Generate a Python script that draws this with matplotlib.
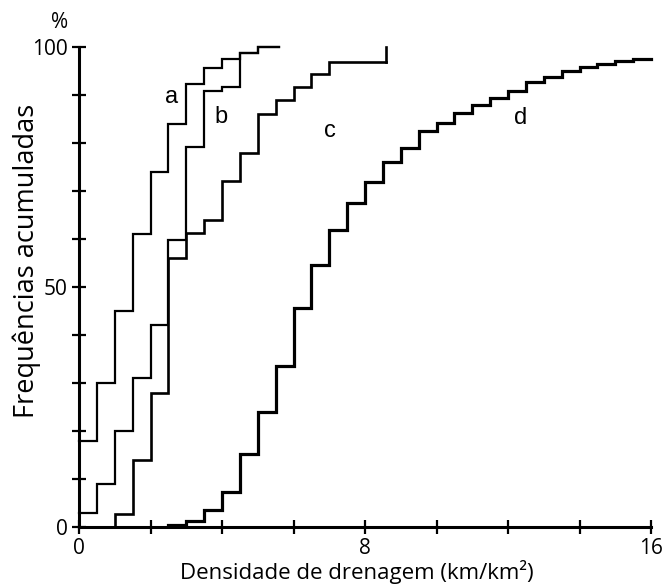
import numpy as np
import matplotlib
matplotlib.use('Agg')
import matplotlib.pyplot as plt

# cumulative frequency curves (step edges in km/km2, % values)
a_x = [0, 0.5, 1.0, 1.5, 2.0, 2.5, 3.0, 3.5, 4.0, 4.5, 5.0, 5.6]
a_y = [18, 30, 45, 61, 74, 84, 92.3, 95.5, 97.4, 98.7, 99.9]

b_x = [0, 0.5, 1.0, 1.5, 2.0, 2.5, 3.0, 3.5, 4.0, 4.5, 5.0, 5.6]
b_y = [3, 9, 20, 31, 42, 59.8, 79.2, 90.7, 91.7, 98.7, 99.9]

c_x = [0, 1.0, 1.5, 2.0, 2.5, 3.0, 3.5, 4.0, 4.5, 5.0, 5.5, 6.0, 6.5, 7.0, 8.6]
c_y = [0, 2.7, 14, 28, 56, 61.2, 64, 72, 77.8, 86, 89, 91.7, 94.4, 96.9]
c_end = 100

d_x = [2.5, 3.0, 3.5, 4.0, 4.5, 5.0, 5.5, 6.0, 6.5, 7.0, 7.5, 8.0, 8.5, 9.0,
       9.5, 10.0, 10.5, 11.0, 11.5, 12.0, 12.5, 13.0, 13.5, 14.0, 14.5,
       15.0, 15.5, 16.0]
d_y = [0.4, 1.3, 3.5, 7.2, 15.2, 24, 33.6, 45.7, 54.6, 61.9, 67.4, 71.9, 75.9,
       78.9, 82.5, 84.2, 86.3, 87.9, 89.3, 90.7, 92.6, 93.7, 94.9, 95.8, 96.5,
       97.1, 97.4]

curve_labels = ['a', 'b', 'c', 'd']
label_pos = [(2.6, 89.5), (3.98, 85.3), (7.03, 82.5), (12.35, 85.2)]

xticks = [0, 2, 4, 6, 8, 10, 12, 14, 16]
xtick_labels = ['0', '', '', '', '8', '', '', '', '16']
yticks = [0, 10, 20, 30, 40, 50, 60, 70, 80, 90, 100]
ytick_labels = ['0', '', '', '', '', '50', '', '', '', '', '100']

plt.rcParams['font.family'] = ['Open Sans', 'DejaVu Sans']

fig = plt.figure(figsize=(6.65, 5.85), dpi=100)
ax = fig.add_axes([79/665, 58/585, 572/665, 480.3/585])


def steps(ax, xs, ys, lw, end=None):
    ys = list(ys) + [ys[-1]]
    ax.step(xs, ys, where='post', color='black', lw=lw, clip_on=False,
            solid_joinstyle='miter')
    if end is not None:
        ax.plot([xs[-1], xs[-1]], [ys[-1], end], color='black', lw=lw,
                clip_on=False)


steps(ax, a_x, a_y, 1.6)
steps(ax, b_x, b_y, 1.6)
steps(ax, c_x, c_y, 1.9, end=c_end)
steps(ax, d_x, d_y, 2.3)

for lab, (lx, ly) in zip(curve_labels, label_pos):
    ax.text(lx, ly, lab, fontsize=17, family='Liberation Sans',
            ha='center', va='center')

ax.set_xlim(0, 16)
ax.set_ylim(0, 100)
ax.set_xticks(xticks)
ax.set_xticklabels(xtick_labels)
ax.set_yticks(yticks)
ax.set_yticklabels(ytick_labels)
ax.tick_params(direction='inout', length=10, width=1.6, labelsize=15,
               pad=3)
for s in ['top', 'right']:
    ax.spines[s].set_visible(False)
for s in ['left', 'bottom']:
    ax.spines[s].set_linewidth(2.2)

# axis titles placed as figure text (pixel positions of the reference)
fig.text(357/665, 1 - 572/585, 'Densidade de drenagem (km/km²)',
         fontsize=16, ha='center', va='center')
fig.text(27/665, 1 - 261/585, 'Frequências acumuladas', fontsize=19.5,
         rotation=90, ha='center', va='center')
fig.text(60/665, 1 - 22/585, '%', fontsize=15, ha='center', va='center')

fig.savefig('out.png', dpi=100)
